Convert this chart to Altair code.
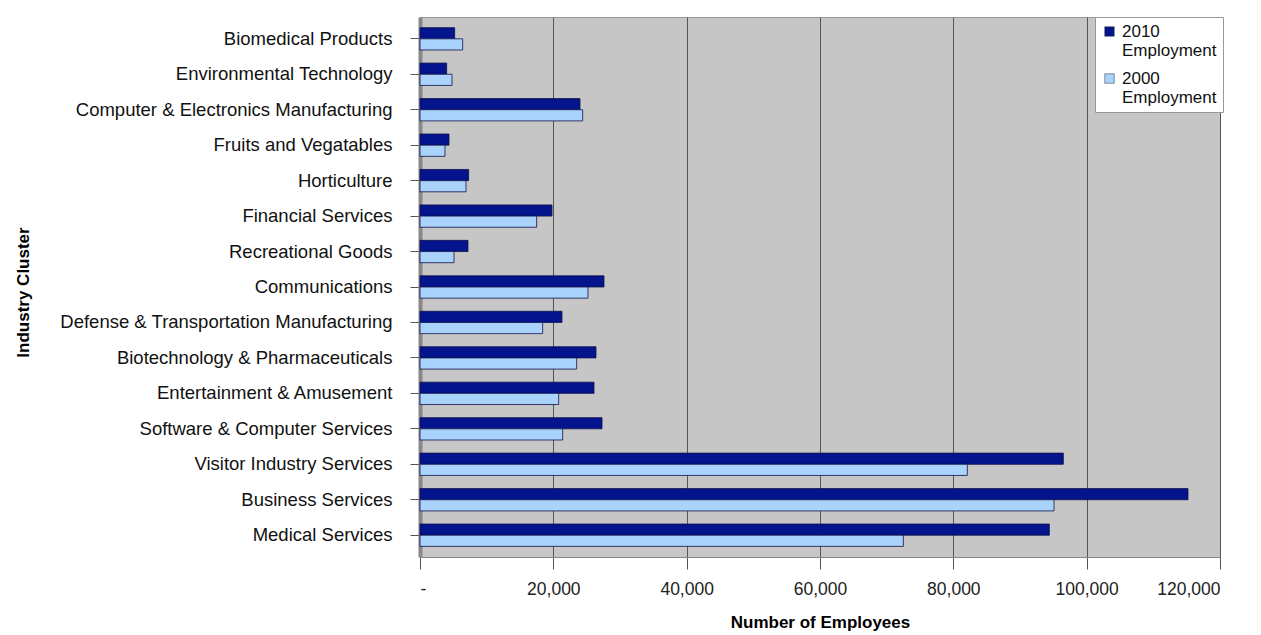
import altair as alt
import pandas as pd

categories = [
    "Biomedical Products", "Environmental Technology", "Computer & Electronics Manufacturing",
    "Fruits and Vegatables", "Horticulture", "Financial Services", "Recreational Goods",
    "Communications", "Defense & Transportation Manufacturing", "Biotechnology & Pharmaceuticals",
    "Entertainment & Amusement", "Software & Computer Services", "Visitor Industry Services",
    "Business Services", "Medical Services",
]
emp_2010 = [5200, 4000, 24000, 4350, 7300, 19800, 7200, 27600, 21300, 26400, 26100, 27300, 96500, 115200, 94400]
emp_2000 = [6400, 4800, 24400, 3750, 6900, 17500, 5100, 25200, 18400, 23500, 20800, 21400, 82100, 95100, 72500]
series = ["2010 Employment", "2000 Employment"]
colors = ["#03148c", "#a9d3fa"]

rows = []
for c, a, b in zip(categories, emp_2010, emp_2000):
    rows.append({"cluster": c, "series": series[0], "value": a})
    rows.append({"cluster": c, "series": series[1], "value": b})
df = pd.DataFrame(rows)

FONT = "Liberation Sans"

bars = alt.Chart(df).mark_bar(stroke="#10104a", strokeWidth=0.8).encode(
    y=alt.Y("cluster:N", sort=categories,
            scale=alt.Scale(paddingInner=0.37, paddingOuter=0.3),
            axis=alt.Axis(title="Industry Cluster", labelFontSize=18.5, labelColor="#111",
                          titleFontSize=17, titleFont=FONT, titleFontWeight="bold",
                          titleX=-388, titleY=275, titleAngle=270,
                          labelPadding=18, tickSize=10, tickColor="#555",
                          domainColor="#888", domainWidth=4, labelLimit=400)),
    yOffset=alt.YOffset("series:N", sort=series),
    x=alt.X("value:Q", scale=alt.Scale(domain=[0, 120000], nice=False),
            axis=alt.Axis(title="Number of Employees", values=[0, 20000, 40000, 60000, 80000, 100000, 120000],
                          labelExpr="datum.value == 0 ? '-' : format(datum.value, ',')",
                          labelFontSize=17.5, labelColor="#222", titleFontSize=17,
                          titleFontWeight="bold", titlePadding=17, tickSize=12, labelPadding=11,
                          tickColor="#555", domainColor="#888",
                          grid=True, gridColor="#555", gridWidth=1)),
    color=alt.Color("series:N", sort=series,
                    scale=alt.Scale(domain=series, range=colors),
                    legend=alt.Legend(title=None, orient="none", legendX=675, legendY=0,
                                      symbolType="square", symbolSize=90, symbolStrokeColor="#333",
                                      symbolStrokeWidth=0.5,
                                      labelFontSize=17, labelFont=FONT, labelColor="#111",
                                      labelExpr="split(datum.label, ' ')",
                                      fillColor="white", strokeColor="#999", padding=6,
                                      rowPadding=10, labelLimit=200)),
)

chart = bars.properties(
    width=800, height=540,
    padding={"left": 412, "top": 9, "right": 10, "bottom": 78},
    autosize=alt.AutoSizeParams(type="none"),
).configure(
    background="white"
).configure_view(
    fill="#c6c6c6", stroke="#999"
).configure_axis(
    labelFont=FONT, titleFont=FONT
)

chart.save("out.html", embed_options={"renderer": "svg", "actions": False})
